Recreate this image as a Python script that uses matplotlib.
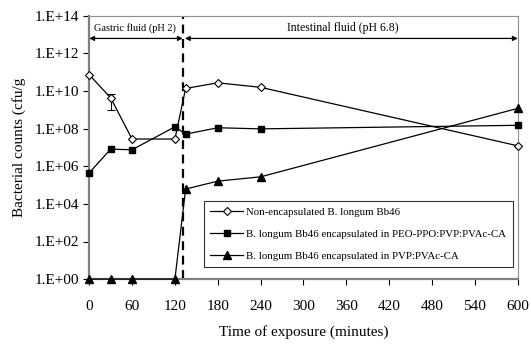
import numpy as np
import matplotlib
matplotlib.use('Agg')
from matplotlib import pyplot as plt

plt.rcParams['font.family'] = ['Liberation Serif', 'DejaVu Serif']

# time points (minutes)
time = [0, 30, 60, 120, 135, 180, 240, 600]

# log10 counts
non_enc = [10.87, 9.64, 7.45, 7.45, 10.14, 10.44, 10.2, 7.09]
peo_ppo = [5.65, 6.91, 6.88, 8.10, 7.71, 8.05, 7.99, 8.18]
pvp = [0.0, 0.0, 0.0, 0.0, 4.79, 5.21, 5.44, 9.08]

# asymmetric error bar at 30 min (log10 low / high)
err_low = 9.0
err_high = 9.87

labels = ['Non-encapsulated B. longum Bb46',
          'B. longum Bb46 encapsulated in PEO-PPO:PVP:PVAc-CA',
          'B. longum Bb46 encapsulated in PVP:PVAc-CA']

yticks = [0, 2, 4, 6, 8, 10, 12, 14]
ytick_labels = ['1.E+%02d' % v for v in yticks]
xticks = list(range(0, 601, 60))

fig = plt.figure(figsize=(5.31, 3.45), dpi=100)
ax = fig.add_axes([0.168, 0.191, 0.807, 0.763])

ax.plot(time, non_enc, color='black', lw=0.9, marker='D', ms=4.3,
        mfc='white', mec='black', mew=0.8, label=labels[0], zorder=3,
        clip_on=False)
ax.plot(time, peo_ppo, color='black', lw=0.9, marker='s', ms=5,
        mfc='black', mec='black', label=labels[1], zorder=3, clip_on=False)
ax.plot(time, pvp, color='black', lw=0.9, marker='^', ms=5.5,
        mfc='black', mec='black', label=labels[2], zorder=3, clip_on=False)

ax.errorbar([time[1]], [non_enc[1]],
            yerr=[[non_enc[1] - err_low], [err_high - non_enc[1]]],
            fmt='none', ecolor='black', elinewidth=0.8, capsize=3, capthick=0.8)

ax.axvline(131, color='black', lw=1.6, ls=(0, (4, 2.5)), zorder=2)

ax.set_xlim(0, 600)
ax.set_ylim(0, 14)
ax.set_xticks(xticks)
ax.set_yticks(yticks)
ax.set_yticklabels(ytick_labels)
ax.tick_params(axis='both', direction='out', length=4, width=0.8,
               labelsize=11, colors='black')
ax.tick_params(axis='x', pad=11)

for side in ['left', 'bottom']:
    ax.spines[side].set_color('#808080')
    ax.spines[side].set_linewidth(1.6)
for side in ['top', 'right']:
    ax.spines[side].set_color('#909090')
    ax.spines[side].set_linewidth(0.8)

ax.set_xlabel('Time of exposure (minutes)', fontsize=11, labelpad=9)
ax.set_ylabel('Bacterial counts (cfu/g', fontsize=11, labelpad=6)

# phase arrows
ax.annotate('', xy=(0, 12.8), xytext=(131, 12.8),
            arrowprops=dict(arrowstyle='<|-|>', color='black', lw=0.9,
                            mutation_scale=7, shrinkA=0, shrinkB=0))
ax.annotate('', xy=(134, 12.8), xytext=(600, 12.8),
            arrowprops=dict(arrowstyle='<|-|>', color='black', lw=0.9,
                            mutation_scale=7, shrinkA=0, shrinkB=0))
ax.text(64, 13.35, 'Gastric fluid (pH 2)', fontsize=7.5, ha='center', va='center')
ax.text(355, 13.35, 'Intestinal fluid (pH 6.8)', fontsize=8.5, ha='center', va='center')

leg = ax.legend(loc='lower right', bbox_to_anchor=(0.988, 0.045), fontsize=7.8,
                frameon=True, fancybox=False, edgecolor='black',
                handlelength=3, borderpad=0.6, labelspacing=1.15,
                handletextpad=0.3, borderaxespad=0)
leg.get_frame().set_linewidth(0.8)

plt.savefig('out.png', dpi=100)
